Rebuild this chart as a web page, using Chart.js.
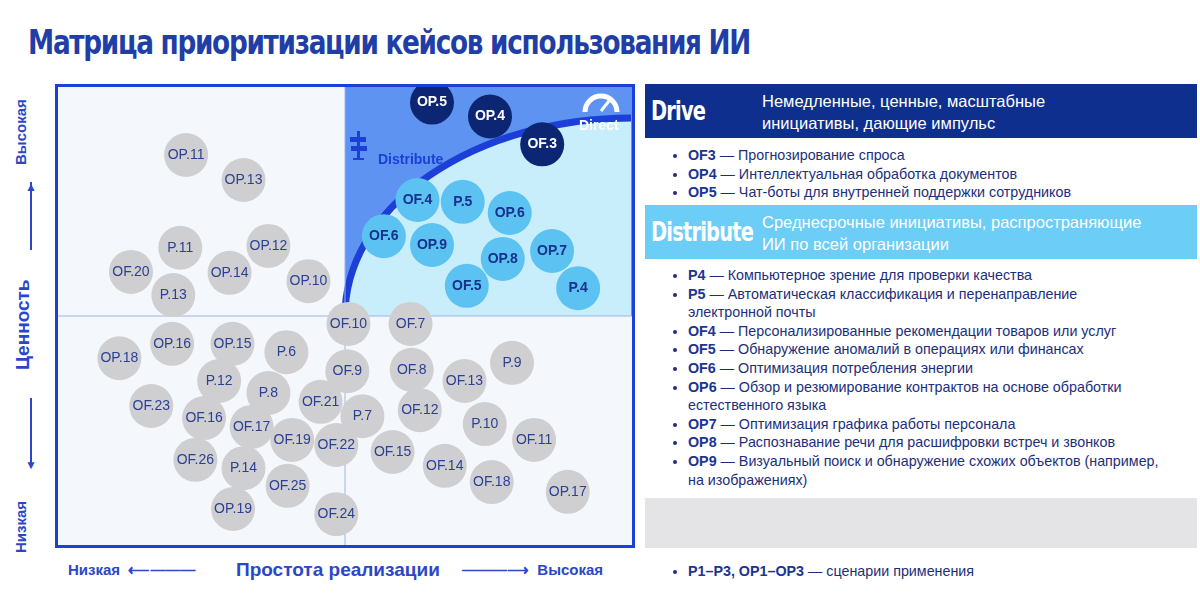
<!DOCTYPE html>
<html><head><meta charset="utf-8">
<script src="https://cdn.jsdelivr.net/npm/chart.js@4"></script>
<style>
body{margin:0;width:1200px;height:595px;background:#fff;font-family:"Liberation Sans",Arial,sans-serif;position:relative;overflow:hidden;color:#1a3593}
h1{position:absolute;left:28px;top:22px;margin:0;font-family:"DejaVu Sans Condensed";font-weight:bold;font-size:34px;letter-spacing:-1.5px;color:#1f3ea6;transform-origin:left top;transform:scaleX(0.86)}
#wrap{position:absolute;left:55px;top:84px;width:580px;height:464px}
.ylab{position:absolute;left:12px;font-weight:bold;color:#2a47c9;transform-origin:left top;transform:rotate(-90deg);white-space:nowrap}
.xlab{position:absolute;top:561px;font-weight:bold;color:#2a47c9;white-space:nowrap}
.hdr{position:absolute;left:645px;width:552px;height:54px}
.hdr b{position:absolute;left:6px;top:11px;font-family:"DejaVu Sans Condensed";font-size:27px;color:#fff;letter-spacing:-1px;transform-origin:left top;transform:scaleX(0.8)}
.hdr span{position:absolute;left:117px;top:6px;font-size:16.5px;line-height:22px;color:#fff}
ul{position:absolute;left:650px;margin:0;padding:0 0 0 38px;font-size:14.3px;line-height:18.6px;color:#1c2f7a;width:475px}
ul b{color:#1a3593}
</style></head><body>
<h1>Матрица приоритизации кейсов использования ИИ</h1>
<div id="wrap"><canvas id="c"></canvas></div>
<div class="ylab" style="top:165px;font-size:15px">Высокая</div>
<div class="ylab" style="top:370px;font-size:19px">Ценность</div>
<div class="ylab" style="top:553px;font-size:15px">Низкая</div>
<div style="position:absolute;left:30px;top:182px;width:2px;height:68px;background:#2a47c9"></div>
<div style="position:absolute;left:25px;top:180px;font-size:12px;color:#2a47c9">▲</div>
<div style="position:absolute;left:30px;top:398px;width:2px;height:68px;background:#2a47c9"></div>
<div style="position:absolute;left:25px;top:458px;font-size:12px;color:#2a47c9">▼</div>
<div class="xlab" style="left:68px;font-size:15px">Низкая &nbsp;⟵———</div>
<div class="xlab" style="left:236px;font-size:19px;top:559px">Простота реализации</div>
<div class="xlab" style="left:462px;font-size:15px">———⟶ &nbsp;Высокая</div>

<div class="hdr" style="top:84px;background:#0f2f8e"><b>Drive</b><span>Немедленные, ценные, масштабные<br>инициативы, дающие импульс</span></div>
<ul style="top:146px">
<li><b>OF3</b> — Прогнозирование спроса</li>
<li><b>OP4</b> — Интеллектуальная обработка документов</li>
<li><b>OP5</b> — Чат-боты для внутренней поддержки сотрудников</li>
</ul>
<div class="hdr" style="top:205px;background:#6ccdf6"><b>Distribute</b><span>Среднесрочные инициативы, распространяющие<br>ИИ по всей организации</span></div>
<ul style="top:266px">
<li><b>P4</b> — Компьютерное зрение для проверки качества</li>
<li><b>P5</b> — Автоматическая классификация и перенаправление электронной почты</li>
<li><b>OF4</b> — Персонализированные рекомендации товаров или услуг</li>
<li><b>OF5</b> — Обнаружение аномалий в операциях или финансах</li>
<li><b>OF6</b> — Оптимизация потребления энергии</li>
<li><b>OP6</b> — Обзор и резюмирование контрактов на основе обработки естественного языка</li>
<li><b>OP7</b> — Оптимизация графика работы персонала</li>
<li><b>OP8</b> — Распознавание речи для расшифровки встреч и звонков</li>
<li><b>OP9</b> — Визуальный поиск и обнаружение схожих объектов (например, на изображениях)</li>
</ul>
<div style="position:absolute;left:645px;top:498px;width:552px;height:50px;background:#e4e4e6"></div>
<ul style="top:562px"><li><b>P1–P3, OP1–OP3</b> — сценарии применения</li></ul>

<script>
// подписи и координаты (x = простота, y = ценность, шкала 0-100)
const driveLabels = ['OP.5','OP.4','OF.3'];
const driveX = [65,75,84];
const driveY = [96,93,87];

const distLabels = ['OF.4','P.5','OP.6','OF.6','OP.9','OP.8','OP.7','OF.5','P.4'];
const distX = [62.5,70.3,78.4,56.7,65,77.2,85.7,71,90.2];
const distY = [75,74.6,72.2,67.2,65.3,62.3,64,56.5,56];

const grayLabels = ['OP.11','OP.13','P.11','OP.12','OF.20','OP.14','OP.10','P.13','OF.10','OF.7',
  'OP.16','OP.15','OP.18','P.6','OF.9','OF.8','OF.13','P.9','P.12','P.8','OF.23','OF.21','OF.16',
  'OF.17','P.7','OF.12','P.10','OF.11','OF.19','OF.22','OF.15','OF.14','OF.26','P.14','OF.18',
  'OP.17','OF.25','OP.19','OF.24'];
const grayX = [22.6,32.5,21.6,36.8,13.1,30.1,43.7,20.4,50.6,61.3,
  20.2,30.6,11.1,39.9,50.4,61.5,70.6,78.8,28.3,36.8,16.6,45.8,25.7,
  33.9,53,62.9,74.1,82.6,40.9,48.5,58.2,67.2,24.2,32.5,75.3,88.4,40.1,30.7,48.5];
const grayY = [84.7,79.3,64.7,65.1,59.5,59.3,57.5,54.5,48.3,48.3,
  44,44,40.9,42.2,38.1,38.4,36,39.9,36,33.4,30.6,31.5,28,
  26.1,28.4,29.7,26.7,23.3,23.3,22.2,20.7,17.7,19,17.2,14.2,12.1,13.4,8.4,7.3];

const pts = (xs, ys) => xs.map((x, i) => ({x: x, y: ys[i], r: 22}));

const backdrop = {
  id: 'backdrop',
  beforeDatasetsDraw(chart) {
    const {ctx, chartArea: a, scales: {x, y}} = chart;
    const mx = x.getPixelForValue(50), my = y.getPixelForValue(50);
    ctx.save();
    ctx.fillStyle = '#f4f8fd';
    ctx.fillRect(a.left, a.top, a.width, a.height);
    // верхний правый квадрант: Direct снаружи дуги, Distribute внутри
    ctx.fillStyle = '#5f93f1';
    ctx.fillRect(mx, a.top, a.right - mx, my - a.top);
    const cx = a.right - 4, rx = cx - mx, ry = my - a.top - 34;
    ctx.beginPath();
    ctx.moveTo(cx, my);
    ctx.ellipse(cx, my, rx, ry, 0, Math.PI, 1.5 * Math.PI);
    ctx.closePath();
    ctx.fillStyle = '#c8eefb';
    ctx.fill();
    ctx.beginPath();
    ctx.ellipse(cx, my, rx, ry, 0, Math.PI, 1.5 * Math.PI);
    ctx.strokeStyle = '#1c3fd8'; ctx.lineWidth = 7; ctx.stroke();
    // средние линии
    ctx.strokeStyle = '#9db3ea'; ctx.lineWidth = 1;
    ctx.beginPath(); ctx.moveTo(mx, a.top); ctx.lineTo(mx, a.bottom);
    ctx.moveTo(a.left, my); ctx.lineTo(a.right, my); ctx.stroke();
    // подписи зон
    ctx.fillStyle = '#1c3fd8'; ctx.font = 'bold 14px "Liberation Sans"';
    ctx.fillText('Distribute', mx + 33, a.top + 80);
    ctx.fillRect(mx + 12, a.top + 47, 3, 28);
    ctx.fillRect(mx + 5, a.top + 53, 16, 5);
    ctx.fillRect(mx + 6, a.top + 62, 16, 5);
    ctx.fillRect(mx + 8, a.top + 74, 11, 2);
    ctx.fillStyle = '#fff';
    ctx.fillText('Direct', a.right - 56, a.top + 46);
    ctx.beginPath(); ctx.arc(a.right - 34, a.top + 28, 16, Math.PI, 2 * Math.PI);
    ctx.strokeStyle = '#fff'; ctx.lineWidth = 5; ctx.stroke();
    ctx.beginPath(); ctx.moveTo(a.right - 34, a.top + 27); ctx.lineTo(a.right - 26, a.top + 17);
    ctx.lineWidth = 3; ctx.stroke();
    ctx.restore();
  },
  afterDraw(chart) {
    const {ctx, chartArea: a} = chart;
    ctx.save();
    ctx.strokeStyle = '#1c3fd8'; ctx.lineWidth = 3;
    ctx.strokeRect(a.left + 1.5, a.top + 1.5, a.width - 3, a.height - 3);
    ctx.textAlign = 'center'; ctx.textBaseline = 'middle';
    chart.data.datasets.forEach((ds, di) => {
      chart.getDatasetMeta(di).data.forEach((el, i) => {
        ctx.fillStyle = ds.textColor;
        ctx.font = (ds.bold ? 'bold ' : '') + '14px "Liberation Sans"';
        ctx.fillText(ds.labels[i], el.x, el.y);
      });
    });
    ctx.restore();
  }
};

new Chart(document.getElementById('c'), {
  type: 'bubble',
  data: {datasets: [
    {data: pts(grayX, grayY), labels: grayLabels, backgroundColor: '#cfcfd1', borderWidth: 0, textColor: '#2b3f94', bold: false},
    {data: pts(distX, distY), labels: distLabels, backgroundColor: '#5cc2f2', borderWidth: 0, textColor: '#17318c', bold: true},
    {data: pts(driveX, driveY), labels: driveLabels, backgroundColor: '#0c2673', borderWidth: 0, textColor: '#ffffff', bold: true}
  ]},
  options: {
    responsive: true, maintainAspectRatio: false, animation: false,
    layout: {padding: 0, autoPadding: false},
    clip: false,
    plugins: {legend: {display: false}, tooltip: {enabled: false}},
    scales: {
      x: {min: 0, max: 100, display: false},
      y: {min: 0, max: 100, display: false}
    }
  },
  plugins: [backdrop]
});
</script>
</body></html>
